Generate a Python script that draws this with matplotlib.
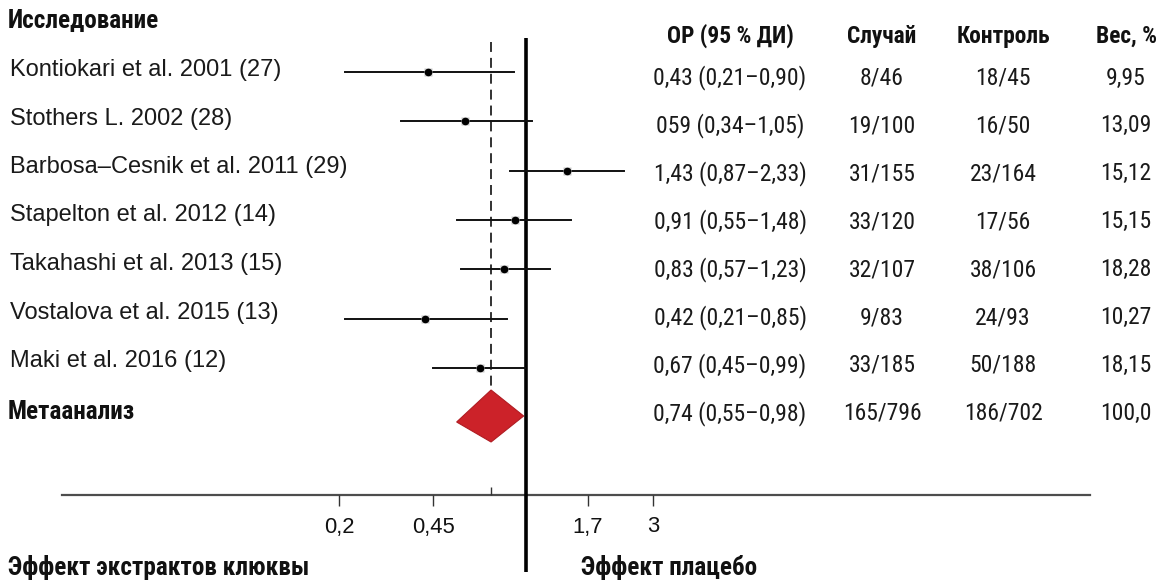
import numpy as np
import matplotlib.pyplot as plt
import matplotlib.transforms as mtransforms
from matplotlib import font_manager

studies = [
    "Kontiokari et al. 2001 (27)",
    "Stothers L. 2002 (28)",
    "Barbosa\u2013Cesnik et al. 2011 (29)",
    "Stapelton et al. 2012 (14)",
    "Takahashi et al. 2013 (15)",
    "Vostalova et al. 2015 (13)",
    "Maki et al. 2016 (12)",
]
rr = [0.43, 0.59, 1.43, 0.91, 0.83, 0.42, 0.67]
ci_lo = [0.21, 0.34, 0.87, 0.55, 0.57, 0.21, 0.45]
ci_hi = [0.90, 1.05, 2.33, 1.48, 1.23, 0.85, 0.99]

meta_rr = 0.74
meta_lo = 0.55
meta_hi = 0.98

rr_text = [
    "0,43 (0,21\u20130,90)",
    "059 (0,34\u20131,05)",
    "1,43 (0,87\u20132,33)",
    "0,91 (0,55\u20131,48)",
    "0,83 (0,57\u20131,23)",
    "0,42 (0,21\u20130,85)",
    "0,67 (0,45\u20130,99)",
    "0,74 (0,55\u20130,98)",
]
cases = ["8/46", "19/100", "31/155", "33/120", "32/107", "9/83", "33/185", "165/796"]
controls = ["18/45", "16/50", "23/164", "17/56", "38/106", "24/93", "50/188", "186/702"]
weights = ["9,95", "13,09", "15,12", "15,15", "18,28", "10,27", "18,15", "100,0"]

col_headers = ["ОР (95 % ДИ)", "Случай", "Контроль", "Вес, %"]
tick_vals = [0.2, 0.45, 1.7, 3]
tick_labels = ["0,2", "0,45", "1,7", "3"]


def pick(cands, wanted):
    # first candidate family that has a static face with one of the wanted weights
    fonts = font_manager.fontManager.ttflist
    for c in cands:
        for w in wanted:
            for f in fonts:
                if f.name == c and f.weight == w and f.style == "normal":
                    return c, w
    return "DejaVu Sans", wanted[0]


cond = ["Roboto Condensed", "PT Sans Narrow", "Fira Sans Condensed",
        "IBM Plex Sans Condensed", "Liberation Sans Narrow"]
narrow, narrow_w = pick(cond, [400])
narrow_b, narrow_bw = pick(cond, [700, 600])
franklin, franklin_w = pick(["Libre Franklin", "Public Sans", "Arimo",
                             "Liberation Sans"], [500, 400])

W, H = 1160, 586
fig = plt.figure(figsize=(W / 100, H / 100), dpi=100)
renderer = fig.canvas.get_renderer()


def fit(text, family, weight, target_px):
    t = fig.text(0, 0, text, fontsize=20, family=family, fontweight=weight)
    w = t.get_window_extent(renderer).width
    t.remove()
    return 20 * target_px / w


fs_study = fit(studies[0], franklin, franklin_w, 271)
fs_tick = fit("0,45", franklin, franklin_w, 43)
fs_val = fit(rr_text[0], narrow, narrow_w, 153)
fs_head = fit(col_headers[0], narrow_b, narrow_bw, 127)
fs_big = fit("Исследование", narrow_b, narrow_bw, 151)

ax = fig.add_axes([0, 0, 1, 1])

# log scale, ~116 px per ln unit, RR = 1 at x = 526 px
px_per_ln = 116
x_one = 526
ax.set_xscale("log")
ax.set_xlim(np.exp(-x_one / px_per_ln), np.exp((W - x_one) / px_per_ln))
ax.set_ylim(H, 0)
ax.axis("off")

trans = mtransforms.blended_transform_factory(fig.transFigure, ax.transData)

row_y = [72 + 49.3 * i for i in range(len(studies))]
table_y = [78 + 47.9 * i for i in range(len(rr_text))]
label_y = [70 + 48.5 * i for i in range(len(studies))]
meta_y = 416

# reference lines
ax.vlines(1, 38, 572, color="black", lw=2.6, zorder=3)
ax.vlines(meta_rr, 42, meta_y - 25, color="#222222", lw=1.3,
          linestyles=(0, (5.5, 3.3)), zorder=2)

# study CIs and point estimates
for y, r, lo, hi in zip(row_y, rr, ci_lo, ci_hi):
    ax.plot([lo, hi], [y, y], color="#111111", lw=1.4, zorder=4)
    ax.plot(r, y, marker="s", ms=6, color="#c8c8c8", mec="none", zorder=5)
    ax.plot(r, y, marker="o", ms=4.5, color="black", zorder=6)

# pooled diamond
ax.fill([meta_lo, meta_rr, meta_hi, meta_rr],
        [meta_y + 6, meta_y - 26, meta_y, meta_y + 26],
        color="#cc2229", ec="#b01c22", lw=0.8, zorder=5)

# bottom axis
ax.axhline(495, xmin=62 / W, xmax=1090 / W, color="#4d4d4d", lw=1.6)
ax.vlines(tick_vals, 495, 506, color="#333333", lw=1)
ax.vlines(meta_rr, 487, 495, color="#333333", lw=1)
for v, t in zip(tick_vals, tick_labels):
    ax.text(v, 527, t, ha="center", va="center", fontsize=fs_tick,
            family=franklin, fontweight=franklin_w, color="#111111")

# left column
ax.text(8 / W, 21, "Исследование", transform=trans, ha="left", va="center",
        fontsize=fs_big, fontweight=narrow_bw, family=narrow_b, color="#111111")
for y, s in zip(label_y, studies):
    ax.text(10 / W, y, s, transform=trans, ha="left", va="center",
            fontsize=fs_study, family=franklin, fontweight=franklin_w,
            color="#1a1a1a")
ax.text(8 / W, 412, "Метаанализ", transform=trans, ha="left", va="center",
        fontsize=fs_big, fontweight=narrow_bw, family=narrow_b, color="#111111")

# right table
col_x = [730, 882, 1003, 1126]
for cx, h in zip(col_x, col_headers):
    ax.text(cx / W, 36, h, transform=trans, ha="center", va="center",
            fontsize=fs_head, fontweight=narrow_bw, family=narrow_b,
            color="#111111")
for col, cx in zip([rr_text, cases, controls, weights], col_x):
    for y, s in zip(table_y, col):
        ax.text(cx / W, y, s, transform=trans, ha="center", va="center",
                fontsize=fs_val, fontweight=narrow_w, family=narrow,
                color="#1a1a1a")

# bottom captions
ax.text(8 / W, 568, "Эффект экстрактов клюквы", transform=trans, ha="left",
        va="center", fontsize=fs_big, fontweight=narrow_bw, family=narrow_b,
        color="#111111")
ax.text(581 / W, 568, "Эффект плацебо", transform=trans, ha="left",
        va="center", fontsize=fs_big, fontweight=narrow_bw, family=narrow_b,
        color="#111111")

fig.savefig("out.png", dpi=100, facecolor="white")
